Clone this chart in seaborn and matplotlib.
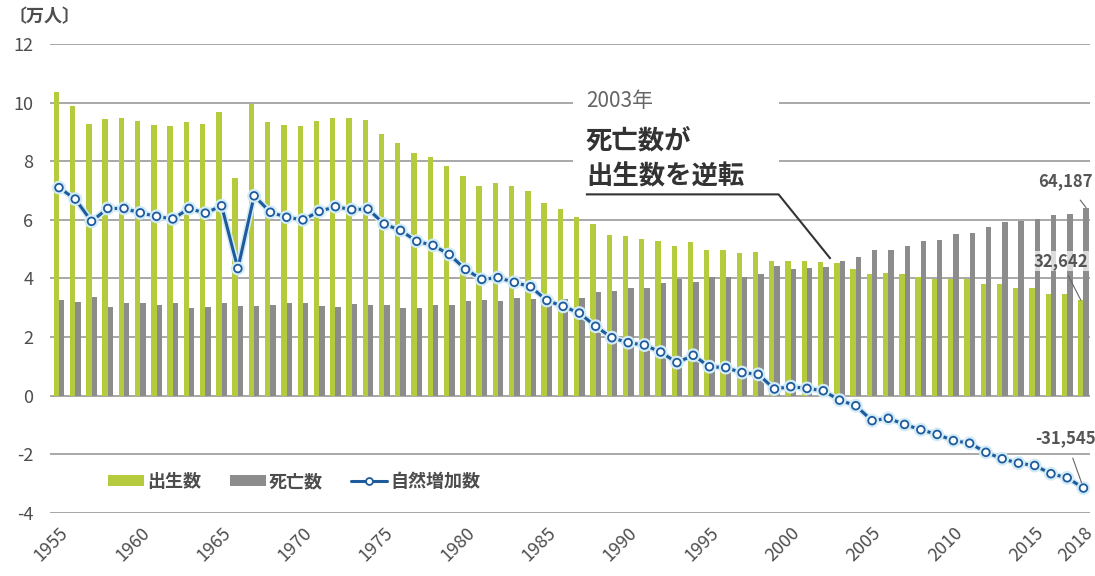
import numpy as np
import pandas as pd
import matplotlib
matplotlib.use("Agg")
import matplotlib.pyplot as plt
import matplotlib.patheffects as pe
from matplotlib.patches import Patch, Rectangle
from matplotlib.lines import Line2D
import seaborn as sns

# ---- data (万人) ----
years = list(range(1955, 2019))
births = [10.35, 9.88, 9.28, 9.45, 9.48, 9.38, 9.22, 9.19, 9.33, 9.28,
          9.67, 7.42, 9.95, 9.33, 9.22, 9.19, 9.37, 9.48, 9.48, 9.41,
          8.94, 8.62, 8.28, 8.14, 7.83, 7.49, 7.15, 7.27, 7.15, 6.99,
          6.59, 6.37, 6.09, 5.86, 5.50, 5.44, 5.36, 5.28, 5.10, 5.24,
          4.96, 4.96, 4.86, 4.89, 4.61, 4.61, 4.61, 4.55, 4.52, 4.33,
          4.14, 4.18, 4.14, 4.05, 3.99, 3.99, 3.99, 3.82, 3.82, 3.68,
          3.68, 3.48, 3.46, 3.26]
deaths = [3.27, 3.21, 3.38, 3.04, 3.15, 3.15, 3.10, 3.18, 2.99, 3.04,
          3.18, 3.06, 3.06, 3.10, 3.18, 3.18, 3.06, 3.04, 3.13, 3.10,
          3.10, 3.01, 3.01, 3.09, 3.09, 3.24, 3.27, 3.24, 3.32, 3.29,
          3.33, 3.30, 3.32, 3.53, 3.58, 3.66, 3.66, 3.83, 3.98, 3.89,
          4.06, 4.06, 4.05, 4.14, 4.44, 4.33, 4.36, 4.38, 4.61, 4.72,
          4.98, 4.98, 5.10, 5.29, 5.31, 5.51, 5.54, 5.76, 5.94, 5.97,
          6.02, 6.17, 6.21, 6.42]
natural = [7.10, 6.71, 5.95, 6.39, 6.39, 6.24, 6.12, 6.03, 6.39, 6.23,
           6.48, 4.34, 6.82, 6.26, 6.09, 6.00, 6.29, 6.45, 6.35, 6.37,
           5.86, 5.64, 5.27, 5.13, 4.82, 4.31, 3.97, 4.03, 3.87, 3.72,
           3.25, 3.05, 2.82, 2.37, 1.98, 1.81, 1.73, 1.49, 1.13, 1.38,
           0.99, 0.96, 0.79, 0.73, 0.23, 0.31, 0.25, 0.17, -0.15, -0.34,
           -0.85, -0.77, -0.98, -1.16, -1.32, -1.53, -1.62, -1.93, -2.15, -2.30,
           -2.38, -2.66, -2.80, -3.15]
series_names = ["出生数", "死亡数", "自然増加数"]
xtick_years = [1955, 1960, 1965, 1970, 1975, 1980, 1985, 1990, 1995, 2000, 2005, 2010, 2015, 2018]
yticks = [-4, -2, 0, 2, 4, 6, 8, 10, 12]
label_births_2018 = "32,642"
label_deaths_2018 = "64,187"
label_natural_2018 = "-31,545"

GREEN = "#b5ca3c"
GRAY = "#8c8c8c"
BLUE = "#1d5b9c"
TXT = "#4d4d4d"

sns.set_style("white")
plt.rcParams["font.family"] = ["Noto Sans CJK JP", "DejaVu Sans"]

fig = plt.figure(figsize=(10.95, 5.76), dpi=100)
ax = fig.add_axes([0.0457, 0.1094, 0.9497, 0.8142])

df = pd.DataFrame({
    "year": years * 2,
    "value": births + deaths,
    "kind": [series_names[0]] * len(years) + [series_names[1]] * len(years),
})

sns.barplot(data=df, x="year", y="value", hue="kind", native_scale=True,
            width=0.66, palette=[GREEN, GRAY], saturation=1, errorbar=None,
            legend=False, ax=ax, linewidth=0, zorder=2)

sns.lineplot(x=years, y=natural, ax=ax, color=BLUE, linewidth=2.2,
             marker="o", markersize=5.5, markerfacecolor="white",
             markeredgecolor=BLUE, markeredgewidth=1.3, zorder=5,
             path_effects=[pe.Stroke(linewidth=4.5, foreground="#d2ebf7"), pe.Normal()])

ax.set_xlim(1954.45, 2018.4)
ax.set_ylim(-4, 12)
ax.set_yticks(yticks)
ax.set_yticklabels([str(v) for v in yticks])
ax.set_xticks(xtick_years)
ax.set_xticklabels([str(v) for v in xtick_years], rotation=45, ha="right",
                   va="top", rotation_mode="anchor")
ax.yaxis.grid(True, color="#9a9a9a", linewidth=1.2)
ax.xaxis.grid(False)
ax.set_axisbelow(True)
for s in ax.spines.values():
    s.set_visible(False)
ax.tick_params(axis="both", length=0, labelsize=13, colors=TXT)
ax.tick_params(axis="y", pad=12)
ax.tick_params(axis="x", pad=8)
ax.set_xlabel("")
ax.set_ylabel("")

fig.text(0.008, 0.972, "〔万人〕", fontsize=13, color=TXT, fontweight="bold",
         va="center", ha="left")

# white block behind the annotation
ax.add_patch(Rectangle((1986.6, 6.6), 12.7, 4.6, facecolor="white",
                       edgecolor="none", zorder=1))

ax.text(1987.4, 10.05, "2003年", fontsize=15, color="#666666", va="center", ha="left", zorder=6)
ax.text(1987.4, 8.7, "死亡数が", fontsize=19, color="#333333", fontweight="bold",
        va="center", ha="left", zorder=6)
ax.text(1987.4, 7.45, "出生数を逆転", fontsize=19, color="#333333", fontweight="bold",
        va="center", ha="left", zorder=6)
i03 = years.index(2003)
ax.plot([1987.4, 1999.25, 2002.45], [6.87, 6.87, births[i03] + 0.15],
        color="#333333", linewidth=1.5, zorder=6, solid_capstyle="butt")

# end labels
i18 = years.index(2018)
lab_kw = dict(fontsize=12, color="#555555", fontweight="bold", ha="center", va="center", zorder=6)
ax.annotate(label_deaths_2018, xy=(2018.16, deaths[i18]), xytext=(2016.9, 7.32),
            arrowprops=dict(arrowstyle="-", color="#666666", lw=0.8,
                            shrinkA=6, shrinkB=0), **lab_kw)
ax.annotate(label_births_2018, xy=(2017.84, births[i18]), xytext=(2016.6, 4.6),
            bbox=dict(boxstyle="square,pad=0.05", facecolor="white", edgecolor="none", alpha=0.7),
            arrowprops=dict(arrowstyle="-", color="#666666", lw=0.8,
                            shrinkA=4, shrinkB=0), **lab_kw)
ax.annotate(label_natural_2018, xy=(2018, natural[i18]), xytext=(2016.9, -1.44),
            arrowprops=dict(arrowstyle="-", color="#666666", lw=0.8,
                            shrinkA=6, shrinkB=4), **lab_kw)

handles = [
    Patch(facecolor=GREEN, edgecolor="none"),
    Patch(facecolor=GRAY, edgecolor="none"),
    Line2D([0], [0], color=BLUE, linewidth=2.2, marker="o", markersize=5,
           markerfacecolor="white", markeredgecolor=BLUE, markeredgewidth=1.3),
]
leg = ax.legend(handles, series_names, loc="center left", bbox_to_anchor=(0.04, 0.067),
                ncol=3, frameon=False, fontsize=13, handlelength=2.0, handleheight=0.55,
                handletextpad=0.15, columnspacing=1.6)
for t in leg.get_texts():
    t.set_color(TXT)
    t.set_fontweight("bold")

fig.savefig("out.png", dpi=100, facecolor="white")
